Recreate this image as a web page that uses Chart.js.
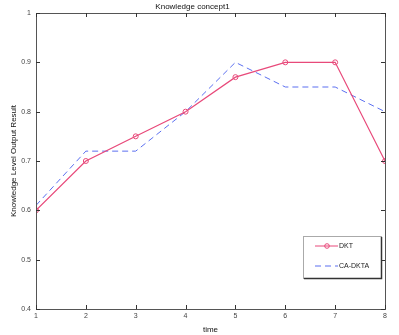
<!DOCTYPE html>
<html>
<head>
<meta charset="utf-8">
<script src="https://cdn.jsdelivr.net/npm/chart.js@4"></script>
<style>
  html, body { margin: 0; padding: 0; background: #fff; }
  #wrap { width: 399px; height: 335px; }
</style>
</head>
<body>
<div id="wrap"><canvas id="myChart" width="399" height="335"></canvas></div>
<script>
// data
const times = [1, 2, 3, 4, 5, 6, 7, 8];
const dkt = [0.6, 0.7, 0.75, 0.8, 0.87, 0.9, 0.9, 0.7];
const caDkta = [0.61, 0.72, 0.72, 0.8, 0.9, 0.85, 0.85, 0.8];
const yTicks = [0.4, 0.5, 0.6, 0.7, 0.8, 0.9, 1];

const fontFam = "'Liberation Sans', Arial, sans-serif";
const pink = '#e8497a';
const blue = '#5b6ff0';

// box around the axes, with little ticks pointing inward (matlab look)
const boxPlugin = {
  id: 'box',
  afterDraw(chart) {
    const ctx = chart.ctx;
    const a = chart.chartArea;
    const sx = chart.scales.x, sy = chart.scales.y;
    ctx.save();
    ctx.strokeStyle = '#555';
    ctx.lineWidth = 1;
    ctx.strokeRect(Math.round(a.left) + 0.5, Math.round(a.top) + 0.5,
      Math.round(a.right - a.left), Math.round(a.bottom - a.top));
    ctx.strokeStyle = '#333';
    ctx.beginPath();
    for (const t of times) {
      const x = Math.round(sx.getPixelForValue(t)) + 0.5;
      ctx.moveTo(x, a.bottom); ctx.lineTo(x, a.bottom - 4);
      ctx.moveTo(x, a.top); ctx.lineTo(x, a.top + 4);
    }
    for (const v of yTicks) {
      const y = Math.round(sy.getPixelForValue(v)) + 0.5;
      ctx.moveTo(a.left, y); ctx.lineTo(a.left + 4, y);
      ctx.moveTo(a.right, y); ctx.lineTo(a.right - 4, y);
    }
    ctx.stroke();
    ctx.restore();
  }
};

// legend box in lower right, drawn from dataset settings
const legendBox = {
  id: 'legendBox',
  afterDraw(chart) {
    const ctx = chart.ctx;
    const a = chart.chartArea;
    const w = 78, h = 42;
    const x0 = a.right - 4 - w, y0 = a.bottom - 31 - h;
    ctx.save();
    ctx.fillStyle = '#fff';
    ctx.fillRect(x0, y0, w, h);
    ctx.strokeStyle = '#aaa';
    ctx.lineWidth = 1;
    ctx.strokeRect(x0 + 0.5, y0 + 0.5, w, h);
    // darker edge on right and bottom
    ctx.strokeStyle = '#333';
    ctx.lineWidth = 1.5;
    ctx.beginPath();
    ctx.moveTo(x0 + w + 0.5, y0 + 1); ctx.lineTo(x0 + w + 0.5, y0 + h + 0.5); ctx.lineTo(x0 + 1, y0 + h + 0.5);
    ctx.stroke();
    ctx.font = '7px ' + fontFam;
    ctx.textBaseline = 'middle';
    chart.data.datasets.forEach((ds, i) => {
      const y = y0 + 10 + i * 20;
      ctx.strokeStyle = ds.borderColor;
      ctx.lineWidth = 1;
      ctx.setLineDash(ds.borderDash || []);
      ctx.beginPath();
      ctx.moveTo(x0 + 12, y); ctx.lineTo(x0 + 35, y);
      ctx.stroke();
      ctx.setLineDash([]);
      if (ds.pointRadius > 0) {
        ctx.beginPath();
        ctx.arc(x0 + 24, y, 2.3, 0, Math.PI * 2);
        ctx.stroke();
      }
      ctx.fillStyle = '#222';
      ctx.fillText(ds.label, x0 + 36, y);
    });
    ctx.restore();
  }
};

const config = {
  type: 'line',
  data: {
    datasets: [{
      label: 'DKT',
      data: times.map((t, i) => ({ x: t, y: dkt[i] })),
      borderColor: pink,
      backgroundColor: 'rgba(0,0,0,0)',
      borderWidth: 1.2,
      pointRadius: 2.5,
      pointBorderWidth: 1,
      pointBorderColor: pink,
      pointBackgroundColor: 'rgba(0,0,0,0)',
      tension: 0
    }, {
      label: 'CA-DKTA',
      data: times.map((t, i) => ({ x: t, y: caDkta[i] })),
      borderColor: blue,
      backgroundColor: 'rgba(0,0,0,0)',
      borderWidth: 1,
      borderDash: [6, 4],
      pointRadius: 0,
      tension: 0
    }]
  },
  options: {
    responsive: false,
    animation: false,
    layout: { padding: { left: 0, top: 0, right: 14, bottom: 0 } },
    plugins: {
      legend: { display: false },
      tooltip: { enabled: false },
      title: {
        display: true,
        text: 'Knowledge concept1',
        color: '#111',
        font: { family: fontFam, size: 8, weight: 'normal' },
        padding: { top: 2, bottom: 1.4 }
      }
    },
    scales: {
      x: {
        type: 'linear',
        min: 1, max: 8,
        afterFit(s) { s.height = 26; },
        grid: { display: false, drawTicks: false },
        border: { display: false },
        ticks: {
          stepSize: 1,
          padding: 3,
          color: '#444',
          font: { family: fontFam, size: 7 }
        },
        title: {
          display: true, text: 'time', color: '#111',
          font: { family: fontFam, size: 8 },
          padding: { top: 1, bottom: 0 }
        }
      },
      y: {
        min: 0.4, max: 1,
        afterFit(s) { s.width = 36; },
        afterBuildTicks(s) { s.ticks = yTicks.map(v => ({ value: v })); },
        grid: { display: false, drawTicks: false },
        border: { display: false },
        ticks: {
          padding: 5,
          color: '#444',
          font: { family: fontFam, size: 7 },
          callback: v => +v.toFixed(1)
        },
        title: {
          display: true, text: 'Knowledge Level Output Result', color: '#111',
          font: { family: fontFam, size: 8 },
          padding: { top: 9, bottom: 0 }
        }
      }
    }
  },
  plugins: [boxPlugin, legendBox]
};

const myChart = new Chart(document.getElementById('myChart'), config);
</script>
</body>
</html>
